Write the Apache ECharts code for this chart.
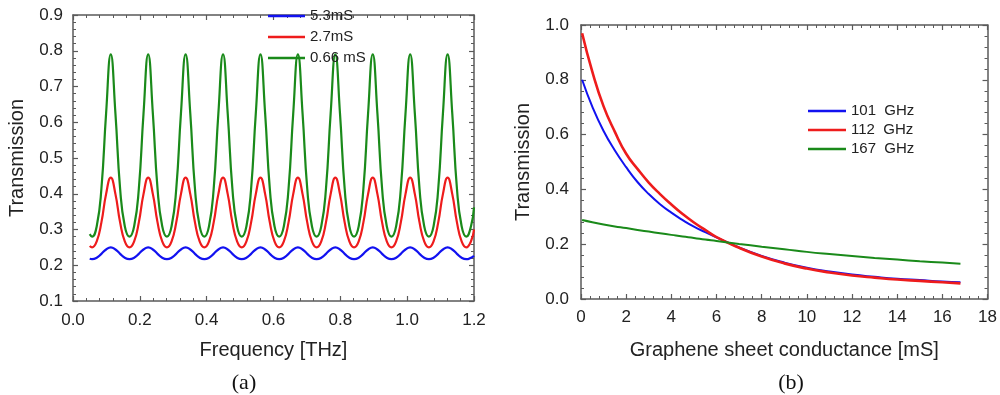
<!DOCTYPE html>
<html>
<head>
<meta charset="utf-8">
<script src="https://cdn.jsdelivr.net/npm/echarts@6/dist/echarts.min.js"></script>
<style>
  html, body { margin: 0; padding: 0; background: #fff; }
  #container { width: 1000px; height: 395px; }
</style>
</head>
<body>
<div id="container"></div>
<script>
// panel (a): transmission vs frequency
var freq = [0.05,
  0.057, 0.071, 0.085, 0.099, 0.113, 0.127, 0.141, 0.155,
  0.169, 0.183, 0.197, 0.211, 0.225, 0.239, 0.253, 0.267,
  0.281, 0.295, 0.309, 0.323, 0.337, 0.351, 0.365, 0.379,
  0.393, 0.407, 0.421, 0.435, 0.449, 0.463, 0.477, 0.491,
  0.505, 0.519, 0.533, 0.547, 0.561, 0.575, 0.589, 0.603,
  0.617, 0.631, 0.645, 0.659, 0.673, 0.687, 0.701, 0.715,
  0.729, 0.743, 0.757, 0.771, 0.785, 0.799, 0.813, 0.827,
  0.841, 0.855, 0.869, 0.883, 0.897, 0.911, 0.925, 0.939,
  0.953, 0.967, 0.981, 0.995, 1.009, 1.023, 1.037, 1.051,
  1.065, 1.079, 1.093, 1.107, 1.121, 1.135, 1.149, 1.163,
  1.177, 1.191, 1.2]

var t53 = [0.218,
  0.217, 0.221, 0.232, 0.244, 0.250, 0.244, 0.232, 0.221,
  0.217, 0.221, 0.232, 0.244, 0.250, 0.244, 0.232, 0.221,
  0.217, 0.221, 0.232, 0.244, 0.250, 0.244, 0.232, 0.221,
  0.217, 0.221, 0.232, 0.244, 0.250, 0.244, 0.232, 0.221,
  0.217, 0.221, 0.232, 0.244, 0.250, 0.244, 0.232, 0.221,
  0.217, 0.221, 0.232, 0.244, 0.250, 0.244, 0.232, 0.221,
  0.217, 0.221, 0.232, 0.244, 0.250, 0.244, 0.232, 0.221,
  0.217, 0.221, 0.232, 0.244, 0.250, 0.244, 0.232, 0.221,
  0.217, 0.221, 0.232, 0.244, 0.250, 0.244, 0.232, 0.221,
  0.217, 0.221, 0.232, 0.244, 0.250, 0.244, 0.232, 0.221,
  0.217, 0.221, 0.226]

var t27 = [0.254,
  0.250, 0.267, 0.320, 0.399, 0.445, 0.399, 0.320, 0.267,
  0.250, 0.267, 0.320, 0.399, 0.445, 0.399, 0.320, 0.267,
  0.250, 0.267, 0.320, 0.399, 0.445, 0.399, 0.320, 0.267,
  0.250, 0.267, 0.320, 0.399, 0.445, 0.399, 0.320, 0.267,
  0.250, 0.267, 0.320, 0.399, 0.445, 0.399, 0.320, 0.267,
  0.250, 0.267, 0.320, 0.399, 0.445, 0.399, 0.320, 0.267,
  0.250, 0.267, 0.320, 0.399, 0.445, 0.399, 0.320, 0.267,
  0.250, 0.267, 0.320, 0.399, 0.445, 0.399, 0.320, 0.267,
  0.250, 0.267, 0.320, 0.399, 0.445, 0.399, 0.320, 0.267,
  0.250, 0.267, 0.320, 0.399, 0.445, 0.399, 0.320, 0.267,
  0.250, 0.267, 0.300]

var t066 = [0.287,
  0.280, 0.309, 0.414, 0.624, 0.790, 0.624, 0.414, 0.309,
  0.280, 0.309, 0.414, 0.624, 0.790, 0.624, 0.414, 0.309,
  0.280, 0.309, 0.414, 0.624, 0.790, 0.624, 0.414, 0.309,
  0.280, 0.309, 0.414, 0.624, 0.790, 0.624, 0.414, 0.309,
  0.280, 0.309, 0.414, 0.624, 0.790, 0.624, 0.414, 0.309,
  0.280, 0.309, 0.414, 0.624, 0.790, 0.624, 0.414, 0.309,
  0.280, 0.309, 0.414, 0.624, 0.790, 0.624, 0.414, 0.309,
  0.280, 0.309, 0.414, 0.624, 0.790, 0.624, 0.414, 0.309,
  0.280, 0.309, 0.414, 0.624, 0.790, 0.624, 0.414, 0.309,
  0.280, 0.309, 0.414, 0.624, 0.790, 0.624, 0.414, 0.309,
  0.280, 0.309, 0.362]

// panel (b): transmission vs graphene sheet conductance
var cond = [0.05, 0.5, 1, 1.5, 2, 2.5, 3, 3.5, 4, 4.5, 5, 5.5, 6, 7, 8, 9, 10, 11, 12, 13, 14, 15, 16, 16.8]
var t101 = [0.800, 0.702, 0.613, 0.542, 0.481, 0.427, 0.383, 0.346, 0.315, 0.288, 0.264, 0.244, 0.225,
  0.188, 0.157, 0.133, 0.114, 0.100, 0.089, 0.081, 0.074, 0.069, 0.064, 0.061]
var t112 = [0.970, 0.830, 0.703, 0.610, 0.530, 0.475, 0.425, 0.383, 0.345, 0.310, 0.279, 0.252, 0.226,
  0.187, 0.155, 0.130, 0.111, 0.097, 0.086, 0.078, 0.071, 0.066, 0.061, 0.057]
var t167 = [0.288, 0.280, 0.272, 0.265, 0.259, 0.252, 0.246, 0.240, 0.234, 0.228, 0.223, 0.217, 0.212,
  0.201, 0.191, 0.182, 0.172, 0.164, 0.157, 0.150, 0.144, 0.138, 0.133, 0.129]

var namesA = ['5.3mS', '2.7mS', '0.66 mS']
var namesB = ['101  GHz', '112  GHz', '167  GHz']
var xTicksA = [0, 1.2, 0.2]
var yTicksA = [0.1, 0.9, 0.1]
var xTicksB = [0, 18, 2]
var yTicksB = [0, 1, 0.2]

var BLUE = '#1212f0'
var RED = '#ee1c1c'
var GREEN = '#1a8a1a'
var FONT = '"Liberation Sans", Arial, sans-serif'
var FRAME = '#5a5a5a'

function pairs(xs, ys) {
  return xs.map(function (x, i) { return [x, ys[i]] })
}

function axis(gridIndex, pos, ticks, opts) {
  var main = pos === 'bottom' || pos === 'left'
  var a = {
    gridIndex: gridIndex,
    type: 'value',
    position: pos,
    min: ticks[0],
    max: ticks[1],
    interval: ticks[2],
    axisLine: { show: true, onZero: false, lineStyle: { color: FRAME, width: 1.5 } },
    axisTick: { show: true, inside: true, length: 5, lineStyle: { color: FRAME, width: 1.2 } },
    minorTick: { show: true, splitNumber: 5, length: 3, lineStyle: { color: FRAME, width: 1 } },
    splitLine: { show: false },
    axisLabel: { show: main, fontSize: 17, fontFamily: FONT, color: '#222' },
    nameTextStyle: { fontSize: 20, fontFamily: FONT, color: '#222' }
  }
  return Object.assign(a, opts || {})
}

function lineSeries(name, xa, ya, data, color, width) {
  return {
    name: name,
    type: 'line',
    xAxisIndex: xa,
    yAxisIndex: ya,
    data: data,
    smooth: true,
    symbol: 'none',
    lineStyle: { color: color, width: width },
    itemStyle: { color: color },
    emphasis: { disabled: true }
  }
}

var myChart = echarts.init(document.getElementById('container'), null, { renderer: 'canvas' })

myChart.setOption({
  animation: false,
  grid: [
    { left: 73, top: 15, width: 401, height: 286 },
    { left: 581, top: 25, width: 408, height: 274 }
  ],
  xAxis: [
    axis(0, 'bottom', xTicksA, {
      name: 'Frequency [THz]', nameLocation: 'middle', nameGap: 39,
      axisLabel: { fontSize: 17, fontFamily: FONT, color: '#222', margin: 11, formatter: function (v) { return v.toFixed(1) } }
    }),
    axis(0, 'top', xTicksA),
    axis(1, 'bottom', xTicksB, {
      name: 'Graphene sheet conductance [mS]', nameLocation: 'middle', nameGap: 41,
      axisLabel: { fontSize: 17, fontFamily: FONT, color: '#222', margin: 10 }
    }),
    axis(1, 'top', xTicksB)
  ],
  yAxis: [
    axis(0, 'left', yTicksA, {
      name: 'Transmission', nameLocation: 'middle', nameGap: 46,
      axisLabel: { fontSize: 17, fontFamily: FONT, color: '#222', margin: 10, formatter: function (v) { return v.toFixed(1) } }
    }),
    axis(0, 'right', yTicksA),
    axis(1, 'left', yTicksB, {
      name: 'Transmission', nameLocation: 'middle', nameGap: 48,
      axisLabel: { fontSize: 17, fontFamily: FONT, color: '#222', margin: 12, formatter: function (v) { return v.toFixed(1) } }
    }),
    axis(1, 'right', yTicksB)
  ],
  legend: [
    {
      data: namesA, orient: 'vertical', left: 268, top: 8.5,
      icon: 'rect', itemWidth: 37, itemHeight: 2.5, itemGap: 6, padding: 0,
      selectedMode: false,
      textStyle: { fontSize: 15, fontFamily: FONT, color: '#222' }
    },
    {
      data: namesB, orient: 'vertical', left: 808, top: 103.5,
      icon: 'rect', itemWidth: 38, itemHeight: 2.5, itemGap: 4, padding: 0,
      selectedMode: false,
      textStyle: { fontSize: 15, fontFamily: FONT, color: '#222' }
    }
  ],
  graphic: [
    { type: 'text', x: 244, y: 383, style: { text: '(a)', font: '22px "Liberation Serif", "Times New Roman", serif', fill: '#111', align: 'center', verticalAlign: 'middle' } },
    { type: 'text', x: 791, y: 383, style: { text: '(b)', font: '22px "Liberation Serif", "Times New Roman", serif', fill: '#111', align: 'center', verticalAlign: 'middle' } }
  ],
  series: [
    lineSeries(namesA[0], 0, 0, pairs(freq, t53), BLUE, 2.2),
    lineSeries(namesA[1], 0, 0, pairs(freq, t27), RED, 2.2),
    lineSeries(namesA[2], 0, 0, pairs(freq, t066), GREEN, 2.2),
    lineSeries(namesB[0], 2, 2, pairs(cond, t101), BLUE, 2),
    lineSeries(namesB[1], 2, 2, pairs(cond, t112), RED, 2.6),
    lineSeries(namesB[2], 2, 2, pairs(cond, t167), GREEN, 2)
  ]
})
</script>
</body>
</html>
